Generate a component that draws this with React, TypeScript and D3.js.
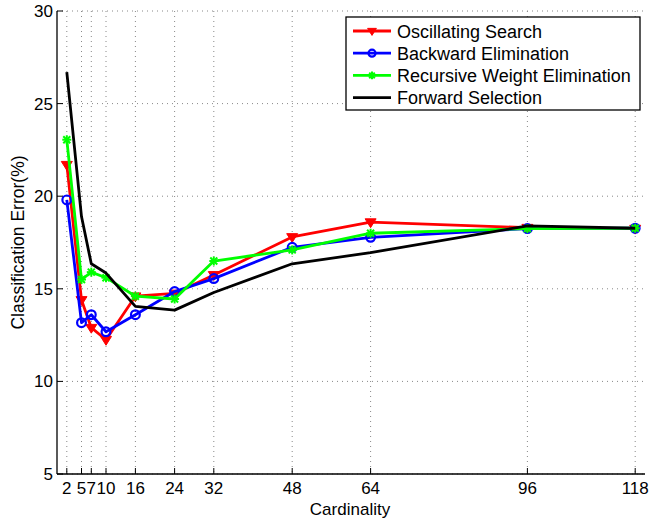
import React from "react";
import * as d3 from "d3";

const cardinality = [2, 5, 7, 10, 16, 24, 32, 48, 64, 96, 118];
const oscillating = [21.7, 14.4, 12.9, 12.25, 14.6, 14.75, 15.75, 17.8, 18.6, 18.3, 18.25];
const backward = [19.8, 13.17, 13.6, 12.68, 13.6, 14.85, 15.55, 17.24, 17.78, 18.25, 18.27];
const recursive = [23.05, 15.5, 15.9, 15.6, 14.6, 14.45, 16.5, 17.1, 18.0, 18.25, 18.27];
const forward = [26.7, 18.9, 16.35, 15.85, 14.05, 13.85, 14.8, 16.35, 16.95, 18.4, 18.27];
const xTicks = [2, 5, 7, 10, 16, 24, 32, 48, 64, 96, 118];
const yTicks = [5, 10, 15, 20, 25, 30];
const seriesNames = ["Oscillating Search", "Backward Elimination", "Recursive Weight Elimination", "Forward Selection"];

const W = 651, H = 524;
const left = 57, right = 645, top = 11, bottom = 474;
const font = "'Liberation Sans', Arial, Helvetica, sans-serif";

export default function App() {
  const x = d3.scaleLinear().domain([0, 120]).range([left, right]);
  const y = d3.scaleLinear().domain([5, 30]).range([bottom, top]);
  const line = d3.line<number>().x((_, i) => x(cardinality[i])).y((d) => y(d));

  const series = [
    { name: seriesNames[0], data: oscillating, color: "#ff0000", marker: "tri" },
    { name: seriesNames[1], data: backward, color: "#0000ff", marker: "circle" },
    { name: seriesNames[2], data: recursive, color: "#00ff00", marker: "x" },
    { name: seriesNames[3], data: forward, color: "#000000", marker: "none" },
  ];

  const marker = (kind: string, cx: number, cy: number, color: string, key: string | number, s = 1) => {
    if (kind === "tri") {
      const r = 5.5 * s;
      return <path key={key} d={`M${cx - r},${cy - r * 0.6} L${cx + r},${cy - r * 0.6} L${cx},${cy + r} Z`} fill={color} stroke={color} strokeWidth={1} />;
    }
    if (kind === "circle") {
      return <circle key={key} cx={cx} cy={cy} r={4.4 * s} fill="none" stroke={color} strokeWidth={2.2} />;
    }
    if (kind === "x") {
      const r = 3.5 * s;
      return (
        <g key={key} stroke={color} strokeWidth={2}>
          <line x1={cx - r} y1={cy - r} x2={cx + r} y2={cy + r} />
          <line x1={cx - r} y1={cy + r} x2={cx + r} y2={cy - r} />
          <line x1={cx} y1={cy - r - 1} x2={cx} y2={cy + r + 1} />
          <line x1={cx - r - 1} y1={cy} x2={cx + r + 1} y2={cy} />
        </g>
      );
    }
    return null;
  };

  const legX = 346, legY = 17, legW = 294, legH = 93;

  return (
    <svg width={W} height={H} style={{ position: "absolute", left: 0, top: 0, background: "#fff" }} fontFamily={font}>
      <rect width={W} height={H} fill="#fff" />
      {/* grid */}
      {xTicks.map((t) => (
        <line key={"gx" + t} x1={x(t)} x2={x(t)} y1={top} y2={bottom} stroke="#888" strokeWidth={1} strokeDasharray="1,4" />
      ))}
      {yTicks.map((t) => (
        <line key={"gy" + t} x1={left} x2={right} y1={y(t)} y2={y(t)} stroke="#888" strokeWidth={1} strokeDasharray="1,4" />
      ))}
      {/* axes */}
      <line x1={left} x2={left} y1={top} y2={bottom} stroke="#000" strokeWidth={1.3} />
      <line x1={left} x2={right} y1={bottom} y2={bottom} stroke="#000" strokeWidth={1.3} />
      {xTicks.map((t) => (
        <g key={"xt" + t}>
          <line x1={x(t)} x2={x(t)} y1={bottom} y2={bottom - 6} stroke="#000" strokeWidth={1} />
          <text x={x(t)} y={bottom + 20} textAnchor="middle" fontSize={17} fill="#000">{t}</text>
        </g>
      ))}
      {yTicks.map((t) => (
        <g key={"yt" + t}>
          <line x1={left} x2={left + 6} y1={y(t)} y2={y(t)} stroke="#000" strokeWidth={1} />
          <text x={left - 4} y={y(t) + 6} textAnchor="end" fontSize={17} fill="#000">{t}</text>
        </g>
      ))}
      <text x={350} y={515} textAnchor="middle" fontSize={17} fill="#000">Cardinality</text>
      <text transform={`translate(24,${(top + bottom) / 2}) rotate(-90)`} textAnchor="middle" fontSize={17.5} fill="#000">Classification Error(%)</text>
      {/* series */}
      {series.map((s) => (
        <g key={s.name}>
          <path d={line(s.data) || ""} fill="none" stroke={s.color} strokeWidth={2.8} strokeLinejoin="round" />
          {s.data.map((v, i) => marker(s.marker, x(cardinality[i]), y(v), s.color, i))}
        </g>
      ))}
      {/* legend */}
      <rect x={legX} y={legY} width={legW} height={legH} fill="#fff" stroke="#000" strokeWidth={1.3} />
      {series.map((s, i) => {
        const ry = 31 + i * 22.2;
        return (
          <g key={"lg" + i}>
            <line x1={353} x2={391} y1={ry} y2={ry} stroke={s.color} strokeWidth={2.8} />
            {marker(s.marker, 372, ry, s.color, "m", 0.8)}
            <text x={397} y={ry + 6.5} fontSize={18} fill="#000">{s.name}</text>
          </g>
        );
      })}
    </svg>
  );
}
